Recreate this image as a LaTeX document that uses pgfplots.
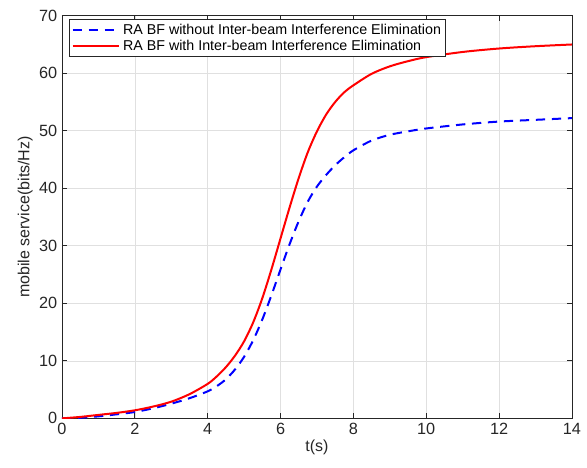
\documentclass[border=0pt]{standalone}
\usepackage{fontspec}
\setmainfont{Liberation Sans}
\usepackage{pgfplots}
\pgfplotsset{compat=1.18}
\definecolor{axgray}{RGB}{38,38,38}
\begin{document}
\begin{tikzpicture}
\begin{axis}[
  scale only axis,
  width=382.5pt, height=302pt,
  xmin=0, xmax=14, ymin=0, ymax=70,
  xtick={0,2,...,14}, ytick={0,10,...,70},
  grid=major,
  major grid style={color=black!12, line width=0.5pt},
  axis line style={axgray, line width=0.6pt},
  tick style={axgray, line width=0.6pt},
  tick align=inside,
  major tick length=4pt,
  xtick pos=both, ytick pos=both,
  ticklabel style={font=\fontsize{12.2}{13}\selectfont, text=axgray},
  /pgf/number format/assume math mode=true,
  xlabel={t(s)}, ylabel={mobile service(bits/Hz)},
  label style={font=\fontsize{12}{13}\selectfont, text=axgray},
  xlabel style={yshift=3pt},
  ylabel style={yshift=-2pt},
  legend style={at={(rel axis cs:0,1)}, anchor=north west, xshift=5.5pt, yshift=-2.5pt,
    font=\fontsize{10.7}{12}\selectfont, draw=axgray, line width=0.6pt,
    inner sep=1.5pt, row sep=-1.5pt, text=black},
  legend cell align=left,
  legend image code/.code={\draw[#1] (0cm,0cm) -- (35pt,0cm);},
]
\addplot[blue, line width=1.5pt, dash pattern=on 7pt off 5pt, smooth] coordinates {
(0,0) (0.5,0.1) (1,0.35) (1.5,0.7) (2,1.1) (2.5,1.75) (3,2.55) (3.5,3.5) (4,4.7) (4.25,5.6)
(4.5,6.8) (4.75,8.5) (5,10.7) (5.25,13.6) (5.5,17.2) (5.75,21.4) (6,25.9) (6.25,30.3)
(6.5,34.3) (6.75,37.7) (7,40.3) (7.25,42.3) (7.5,44.0) (7.75,45.4) (8,46.6) (8.5,48.3)
(9,49.3) (9.5,49.9) (10,50.4) (11,51.1) (12,51.6) (13,51.9) (14,52.2)};
\addlegendentry{RA BF without Inter-beam Interference Elimination}
\addplot[red, line width=1.5pt, smooth] coordinates {
(0,0) (0.5,0.25) (1,0.6) (1.5,0.95) (2,1.4) (2.5,2.05) (3,2.9) (3.5,4.2) (4,6.0) (4.25,7.3)
(4.5,8.9) (4.75,10.9) (5,13.4) (5.25,16.7) (5.5,20.9) (5.75,25.9) (6,31.3) (6.25,36.7)
(6.5,41.8) (6.75,46.3) (7,49.9) (7.25,52.8) (7.5,55.0) (7.75,56.7) (8,57.9) (8.5,59.9)
(9,61.2) (9.5,62.1) (10,62.8) (11,63.7) (12,64.3) (13,64.7) (14,65.0)};
\addlegendentry{RA BF with Inter-beam Interference Elimination}
\end{axis}
\pgfresetboundingbox
\path (current axis.south west) ++(-46.5pt,-37pt) coordinate (bl);
\path (current axis.north east) ++(11.3pt,11.8pt) coordinate (tr);
\path[use as bounding box] (bl) rectangle (tr);
\end{tikzpicture}
\end{document}
